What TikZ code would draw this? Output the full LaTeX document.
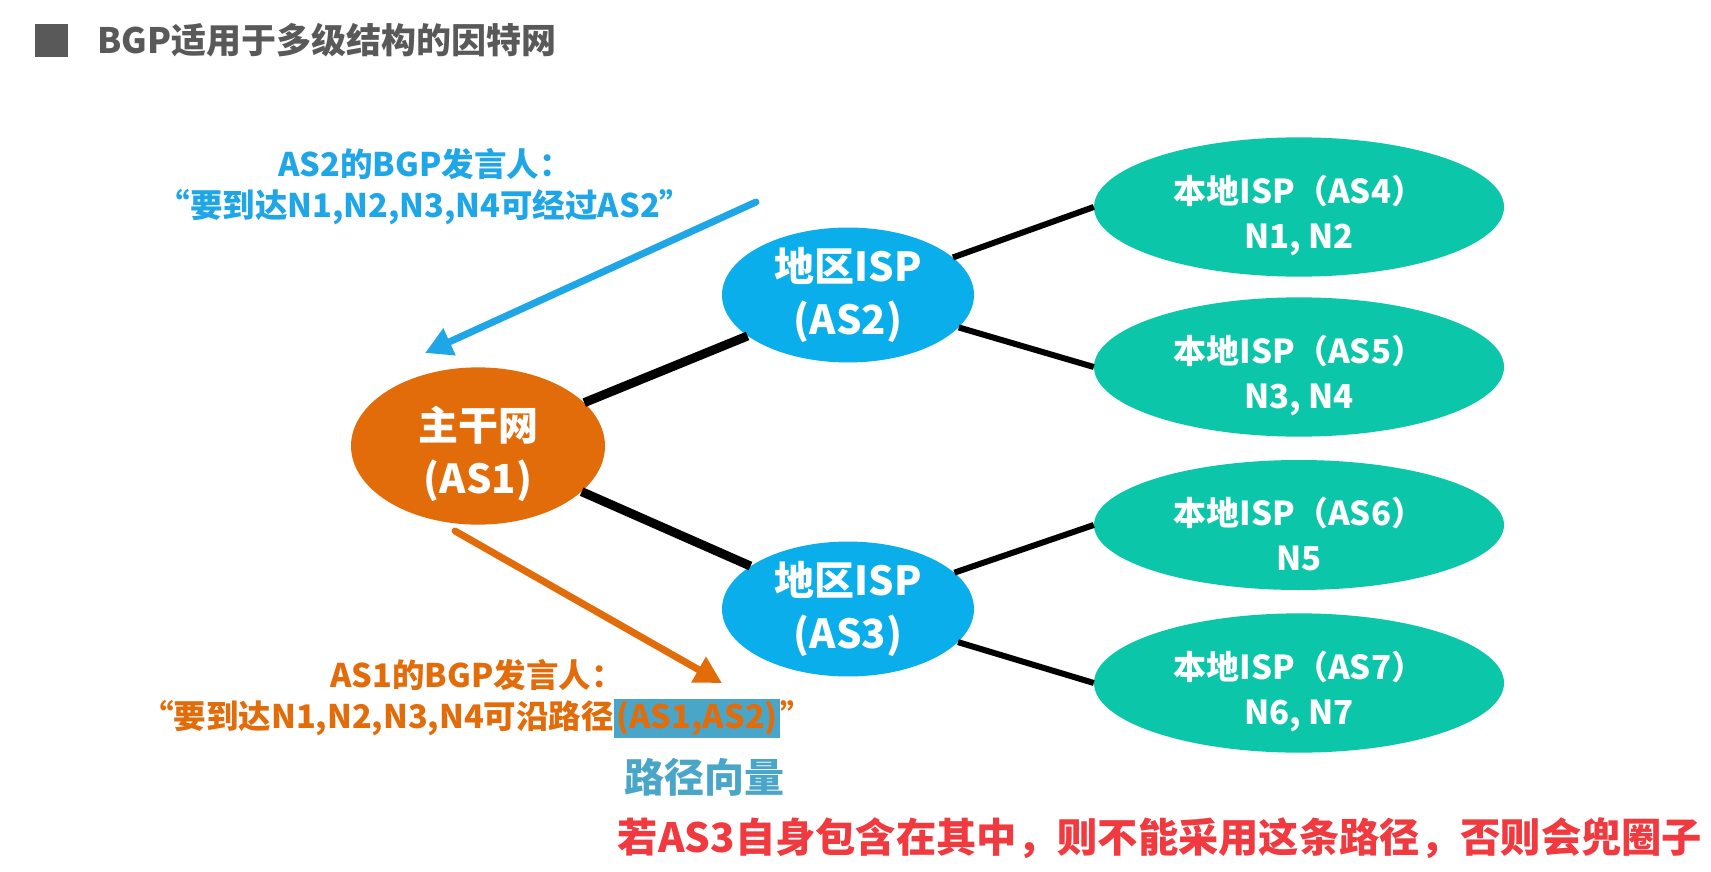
\documentclass[tikz,border=0pt]{standalone}
\usepackage{fontspec}
\setmainfont{Noto Sans CJK SC}
\usetikzlibrary{shapes.geometric,arrows.meta}
\definecolor{orangeA}{HTML}{E36C0A}
\definecolor{blueA}{HTML}{0AAEEB}
\definecolor{blueT}{HTML}{1EA6E6}
\definecolor{greenA}{HTML}{0BC6A9}
\definecolor{grayT}{HTML}{595959}
\definecolor{hlblue}{HTML}{4AA6C9}
\definecolor{redT}{HTML}{F03A40}
\begin{document}
\begin{tikzpicture}[x=1pt,y=-1pt,
  ell/.style={ellipse,inner sep=0pt,text=white,align=center},
  bigfont/.style={font=\fontsize{40}{53}\selectfont\bfseries},
  smallfont/.style={font=\fontsize{33}{45}\selectfont\bfseries},
  core/.style={ell,bigfont,fill=orangeA,minimum width=254pt,minimum height=150pt},
  region/.style={ell,bigfont,fill=blueA,minimum width=252pt,minimum height=132pt},
  local/.style={ell,smallfont,fill=greenA,minimum width=410pt,minimum height=130pt},
  thicklink/.style={line width=9pt,black},
  thinlink/.style={line width=6pt,black},
  note/.style={align=center,font=\fontsize{32.5}{41}\selectfont\bfseries,inner sep=0pt},
  bigarrow/.style={line width=7pt,line cap=round,-{Triangle[length=27pt,width=28pt]}}
]
\useasboundingbox (0,0) rectangle (1711,872);
\fill[white] (0,0) rectangle (1711,872);

% title
\fill[grayT] (35,24) rectangle (68,57);
\node[anchor=west,text=grayT,font=\fontsize{35}{40}\selectfont\bfseries,inner sep=0pt] (title) at (97,40) {BGP适用于多级结构的因特网};

% nodes
\node[core] (AS1) at (478,446) {\rule{0pt}{50pt}主干网\\(AS1)};
\node[region] (AS2) at (848,295) {地区ISP\\(AS2)};
\node[region,minimum height=134pt] (AS3) at (848,609) {地区ISP\\(AS3)};
\node[local] (AS4) at (1299,207) {\rule{0pt}{46pt}本地ISP（AS4）\\N1, N2};
\node[local] (AS5) at (1299,367) {\rule{0pt}{46pt}本地ISP（AS5）\\N3, N4};
\node[local] (AS6) at (1299,525) {\rule{0pt}{46pt}本地ISP（AS6）\\N5};
\node[local] (AS7) at (1299,683) {\rule{0pt}{46pt}本地ISP（AS7）\\N6, N7};

% links
\draw[thicklink] (AS1) -- (AS2);
\draw[thicklink] (AS1) -- (AS3);
\draw[thinlink] (AS2) -- (AS4.west);
\draw[thinlink] (AS2) -- (AS5.west);
\draw[thinlink] (AS3) -- (AS6.west);
\draw[thinlink] (AS3) -- (AS7.west);

% announcements
\node[note,text=blueT] (n2) at (425,187) {AS2的BGP发言人：\\“要到达N1,N2,N3,N4可经过AS2”};
\coordinate (b1) at (756,202);
\coordinate (b2) at (425,353);
\draw[bigarrow,blueT] (b1) -- (b2);

\coordinate (o1) at (455,531);
\coordinate (o2) at (722,683);
\draw[bigarrow,orangeA] (o1) -- (o2);
\node[note,text=orangeA] (n1) at (477,699) {AS1的BGP发言人：\\“要到达N1,N2,N3,N4可沿路径{\setlength{\fboxsep}{2.5pt}\colorbox{hlblue}{(AS1,AS2)}}”};

\node[text=hlblue,font=\fontsize{40}{44}\selectfont\bfseries,inner sep=0pt] (pv) at (704,777) {路径向量};
\node[text=redT,font=\fontsize{40.3}{44}\selectfont\bfseries,inner sep=0pt] (warn) at (1160,838) {若AS3自身包含在其中，则不能采用这条路径，否则会兜圈子};
\end{tikzpicture}
\end{document}
